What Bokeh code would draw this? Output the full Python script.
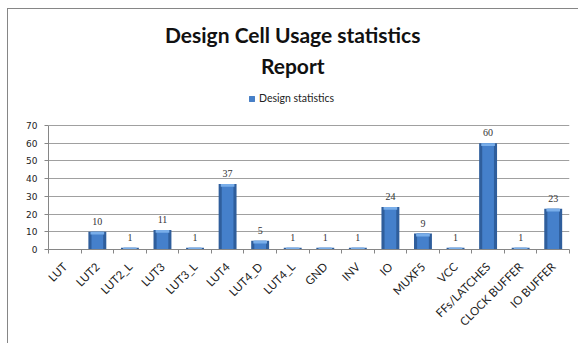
import numpy as np
from math import pi
from bokeh.plotting import figure
from bokeh.models import (ColumnDataSource, FixedTicker, Label, Legend, LegendItem, Range1d)
from bokeh.embed import file_html
from bokeh.resources import INLINE

# Cell types and their usage counts
categories = ["LUT", "LUT2", "LUT2_L", "LUT3", "LUT3_L", "LUT4", "LUT4_D", "LUT4_L",
              "GND", "INV", "IO", "MUXF5", "VCC", "FFs/LATCHES", "CLOCK BUFFER", "IO BUFFER"]
usage = [0, 10, 1, 11, 1, 37, 5, 1, 1, 1, 24, 9, 1, 60, 1, 23]
y_ticks = [0, 10, 20, 30, 40, 50, 60, 70]
series_name = "Design statistics"

n = len(categories)
centers = np.arange(n) + 0.5
src = ColumnDataSource(dict(x=centers, top=usage, name=categories,
                            cap_bottom=[max(v - 1.6, 0) for v in usage]))
lab_src = ColumnDataSource(dict(x=[c for c, v in zip(centers, usage) if v > 0],
                                y=[v for v in usage if v > 0],
                                t=[str(v) for v in usage if v > 0]))

# The plotting frame reaches up to the top of the chart so that the title and the
# legend can live inside it; the value axis and grid stay bounded to 0..70.
frame_h = 240          # px, top of chart down to the category axis
axis_h = 124           # px used by the 0..70 value scale
y_top = y_ticks[-1] * frame_h / axis_h

p = figure(width=571, height=335, output_backend="svg", toolbar_location=None,
           x_range=Range1d(0, n), y_range=Range1d(0, y_top),
           min_border_left=40, min_border_right=10, min_border_top=0, min_border_bottom=95)
p.styles = {"margin-left": "7px", "margin-top": "8px",
            "border-left": "1px solid #868686", "border-top": "1px solid #868686"}
p.outline_line_color = None
p.background_fill_color = "white"
p.border_fill_color = "white"

# bars: dark body, lighter middle band and highlighted top bevel
r1 = p.vbar(x="x", top="top", width=0.55, source=src, fill_color="#2f5e9c", line_color=None)
r2 = p.vbar(x="x", top="top", width=0.36, source=src, fill_color="#4580cb", line_color=None)
r3 = p.vbar(x="x", top="top", bottom="cap_bottom", width=0.42, source=src,
            fill_color="#79aeea", line_color=None)

p.text(x="x", y="y", text="t", source=lab_src, text_align="center", text_baseline="bottom",
       y_offset=-7, text_font_size="10px", text_color="#333333", text_font="DejaVu Sans")

# axes
p.xaxis.ticker = FixedTicker(ticks=list(centers), minor_ticks=list(range(n + 1)))
p.xaxis.major_label_overrides = {float(c): name for c, name in zip(centers, categories)}
p.xaxis.major_label_orientation = pi / 4
p.xaxis.major_tick_line_color = None
p.xaxis.minor_tick_in = 0
p.xaxis.minor_tick_out = 4
p.xaxis.minor_tick_line_color = "#868686"
p.xaxis.axis_line_color = "#868686"
p.xaxis.major_label_text_font = "Lato"
p.xaxis.major_label_text_font_size = "11.5px"
p.xaxis.major_label_text_color = "#222222"
p.xaxis.major_label_standoff = 9

p.yaxis.ticker = FixedTicker(ticks=y_ticks)
p.yaxis.bounds = (y_ticks[0], y_ticks[-1])
p.yaxis.minor_tick_line_color = None
p.yaxis.major_tick_in = 0
p.yaxis.major_tick_out = 4
p.yaxis.major_tick_line_color = "#868686"
p.yaxis.axis_line_color = "#868686"
p.yaxis.major_label_text_font = "DejaVu Sans"
p.yaxis.major_label_text_font_size = "9px"
p.yaxis.major_label_text_color = "#222222"
p.yaxis.major_label_standoff = 7

p.xgrid.grid_line_color = None
p.ygrid.ticker = FixedTicker(ticks=y_ticks)
p.ygrid.grid_line_color = "#a0a0a0"

# title
p.add_layout(Label(x=7.5, y=114.3, text="Design Cell Usage statistics", text_align="center",
                   text_font="Lato", text_font_style="bold", text_font_size="21px",
                   text_color="#111111"))
p.add_layout(Label(x=7.5, y=96.6, text="Report", text_align="center",
                   text_font="Lato", text_font_style="bold", text_font_size="21px",
                   text_color="#111111"))

legend = Legend(items=[LegendItem(label=series_name, renderers=[r1, r2])],
                location=(200, 145), orientation="horizontal",
                glyph_width=7, glyph_height=7, label_text_font="Lato",
                label_text_font_size="10.5px", label_text_color="#222222",
                label_standoff=4, padding=0, margin=0, spacing=0,
                border_line_color=None, background_fill_alpha=0, label_height=10)
p.add_layout(legend, "center")

open("out.html", "w").write(file_html(p, INLINE))
